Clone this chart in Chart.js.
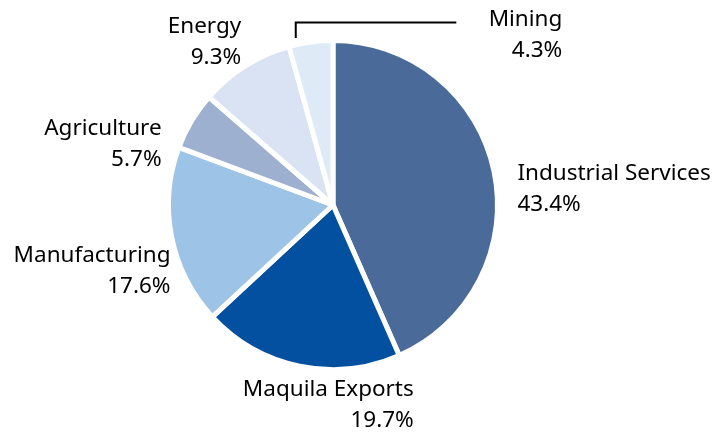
<!DOCTYPE html>
<html>
<head>
<meta charset="utf-8">
<script src="https://cdn.jsdelivr.net/npm/chart.js@4/dist/chart.umd.min.js"></script>
<style>
  html, body { margin: 0; padding: 0; background: #fff; }
  #wrap { width: 715px; height: 434px; }
</style>
</head>
<body>
<div id="wrap"><canvas id="pieCanvas"></canvas></div>
<script>
// sector shares, clockwise from 12 o'clock
const sectors = ['Industrial Services', 'Maquila Exports', 'Manufacturing', 'Agriculture', 'Energy', 'Mining'];
const shares = [43.4, 19.7, 17.6, 5.7, 9.3, 4.3];
const sliceColors = ['#4a6b9a', '#0450a0', '#9dc3e6', '#9db0d0', '#dae3f3', '#deebf7'];

// where each label sits, in units of the pie radius from its centre
const labelLayout = [
  { dx: 1.121, dy: -0.097, align: 'left' },
  { dx: 0.491, dy: 1.218, align: 'right' },
  { dx: -0.988, dy: 0.40, align: 'right' },
  { dx: -1.042, dy: -0.37, align: 'right' },
  { dx: -0.558, dy: -0.988, align: 'right' },
  { dx: 1.394, dy: -1.03, align: 'right', leader: true }
];

const pieLabels = {
  id: 'pieLabels',
  afterDatasetsDraw(chart) {
    const ctx = chart.ctx;
    const arcs = chart.getDatasetMeta(0).data;
    ctx.save();
    ctx.font = '22.5px "Noto Sans"';
    ctx.fillStyle = '#000';
    ctx.textBaseline = 'middle';
    arcs.forEach((arc, i) => {
      const lay = labelLayout[i];
      const r = arc.outerRadius;
      const x = arc.x + lay.dx * r;
      const y = arc.y + lay.dy * r;
      ctx.textAlign = lay.align;
      ctx.fillText(sectors[i], x, y - 15.5);
      ctx.fillText(shares[i].toFixed(1) + '%', x, y + 15.5);

      if (lay.leader) {
        // elbow line from the slice's top edge out to the label
        const mid = (arc.startAngle + arc.endAngle) / 2;
        const px = arc.x + Math.cos(arc.startAngle + (mid - arc.startAngle) * 0.35) * (r + 4);
        const py = arc.y + Math.sin(mid) * (r + 4);
        const ly = arc.y - r * 1.11;
        ctx.strokeStyle = '#000';
        ctx.lineWidth = 2;
        ctx.beginPath();
        ctx.moveTo(px, py);
        ctx.lineTo(px, ly);
        ctx.lineTo(x - 106, ly);
        ctx.stroke();
      }
    });
    ctx.restore();
  }
};

new Chart(document.getElementById('pieCanvas'), {
  type: 'pie',
  data: {
    labels: sectors,
    datasets: [{
      data: shares,
      backgroundColor: sliceColors,
      borderColor: '#fff',
      borderWidth: 5
    }]
  },
  options: {
    responsive: true,
    maintainAspectRatio: false,
    animation: false,
    layout: { padding: { top: 38, bottom: 62, left: 100, right: 149 } },
    plugins: {
      legend: { display: false },
      tooltip: { enabled: false }
    }
  },
  plugins: [pieLabels]
});
</script>
</body>
</html>
